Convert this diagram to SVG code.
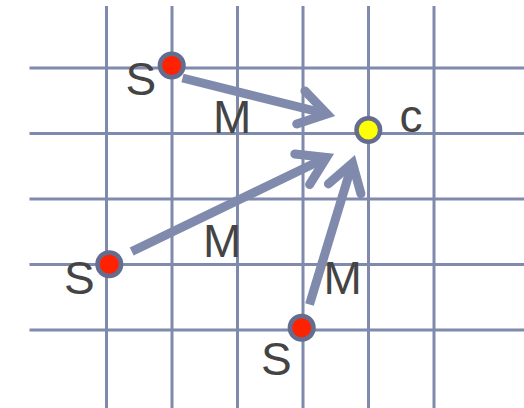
<svg xmlns="http://www.w3.org/2000/svg" width="524" height="408" viewBox="0 0 524 408">
<defs>
<style>
.grid line{stroke:#7f8aad;stroke-width:3}
.conn path{fill:none;stroke:#7f8aad;stroke-width:9;stroke-linecap:butt}
.node circle{stroke:#646d8f;stroke-width:4.5}
.s circle{fill:#ff2200}
.c circle{fill:#ffff00}
text{font-family:"Liberation Sans",Arial,sans-serif;font-size:46px;fill:#444444}
</style>
<marker id="chev" markerUnits="userSpaceOnUse" orient="auto" refX="0" refY="0" markerWidth="1" markerHeight="1" overflow="visible">
<path d="M-27,-17 L0,0 L-27,17" fill="none" stroke="#7f8aad" stroke-width="9" stroke-linecap="round" stroke-linejoin="miter" stroke-miterlimit="10"/>
</marker>
</defs>
<rect width="524" height="408" fill="#ffffff"/>
<g class="grid">
<line x1="106.5" y1="6" x2="106.5" y2="408"/>
<line x1="172" y1="6" x2="172" y2="408"/>
<line x1="237.5" y1="6" x2="237.5" y2="408"/>
<line x1="303" y1="6" x2="303" y2="408"/>
<line x1="368.5" y1="6" x2="368.5" y2="408"/>
<line x1="434" y1="6" x2="434" y2="408"/>
<line x1="29.5" y1="68" x2="524" y2="68"/>
<line x1="29.5" y1="133.5" x2="524" y2="133.5"/>
<line x1="29.5" y1="199" x2="524" y2="199"/>
<line x1="29.5" y1="264.5" x2="524" y2="264.5"/>
<line x1="29.5" y1="330" x2="524" y2="330"/>
</g>
<g id="connectors" class="conn">
<path d="M182.5,78 L327,114" marker-end="url(#chev)"/>
<path d="M131.7,251.5 L326.5,157.5" marker-end="url(#chev)"/>
<path d="M309.5,304.5 L352.5,163" marker-end="url(#chev)"/>
</g>
<g id="node-s1" class="node s"><circle cx="171.7" cy="65.5" r="11.8"/><text x="125.5" y="95">S</text></g>
<g id="node-s2" class="node s"><circle cx="109.3" cy="264.3" r="11.8"/><text x="64" y="294">S</text></g>
<g id="node-s3" class="node s"><circle cx="301.7" cy="327.7" r="11.8"/><text x="261" y="374.7">S</text></g>
<g id="node-c" class="node c"><circle cx="368.3" cy="130" r="11.8"/><text x="399.5" y="131.7">c</text></g>
<g id="labels">
<text x="213" y="133.3">M</text>
<text x="203" y="257.3">M</text>
<text x="323.5" y="294">M</text>
</g>
</svg>
